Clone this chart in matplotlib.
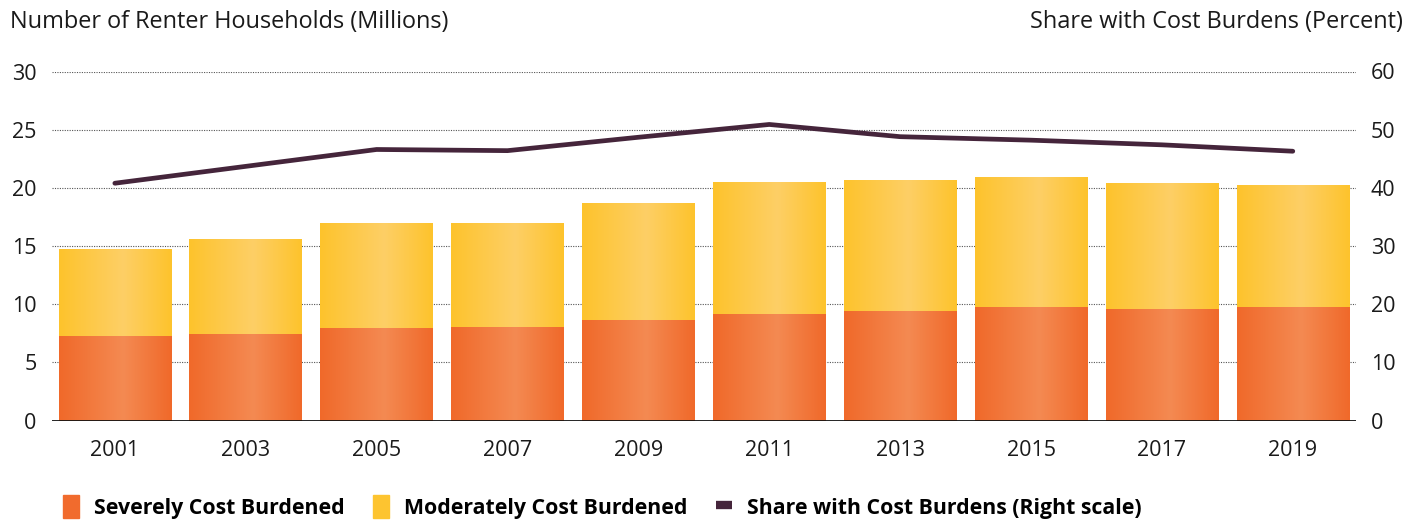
import numpy as np
import matplotlib
matplotlib.use('Agg')
import matplotlib.pyplot as plt
from matplotlib.colors import LinearSegmentedColormap
from matplotlib.patches import Patch
from matplotlib.lines import Line2D

plt.rcParams['font.family'] = ['Open Sans', 'DejaVu Sans']

# Data
years = ['2001', '2003', '2005', '2007', '2009', '2011', '2013', '2015', '2017', '2019']
severe = [7.3, 7.45, 7.95, 8.05, 8.65, 9.15, 9.45, 9.75, 9.6, 9.75]
total = [14.75, 15.6, 17.0, 17.0, 18.7, 20.5, 20.7, 20.95, 20.45, 20.25]
moderate = [t - s for t, s in zip(total, severe)]
share = [40.8, 43.7, 46.6, 46.4, 48.7, 50.9, 48.8, 48.2, 47.4, 46.3]

orange = '#F16B2D'
yellow = '#FDC430'
plum = '#45253B'

fig = plt.figure(figsize=(14.21, 5.2), dpi=100)
ax = fig.add_axes([0.0366, 0.191, 0.9174, 0.6715])
ax2 = ax.twinx()

x = np.arange(len(years))
b1 = ax.bar(x, severe, width=0.86, color=orange, zorder=2)
b2 = ax.bar(x, moderate, bottom=severe, width=0.86, color=yellow, zorder=2)

# horizontal gradient (lighter near the middle) clipped to each bar
def shade(bars, edge, mid):
    cmap = LinearSegmentedColormap.from_list('g', [edge, mid, edge])
    grad = np.linspace(0, 1, 256)
    grad = np.where(grad < 0.57, grad / 0.57 * 0.5, 0.5 + (grad - 0.57) / 0.43 * 0.5)
    grad = grad.reshape(1, -1)
    for p in bars:
        x0, y0 = p.get_x(), p.get_y()
        w, h = p.get_width(), p.get_height()
        im = ax.imshow(grad, cmap=cmap, aspect='auto', extent=[x0, x0 + w, y0, y0 + h],
                       zorder=2.5, interpolation='bicubic')
        im.set_clip_path(p)

shade(b1, '#F0692A', '#F48A52')
shade(b2, '#FDC32C', '#FECF66')

ax.set_xlim(-0.48, 9.48)
ax.set_ylim(0, 30)
ax.set_yticks([0, 5, 10, 15, 20, 25, 30])
ax.set_xticks(x)
ax.set_xticklabels(years)
ax.grid(axis='y', color='#555555', linestyle=(0, (1, 1.2)), linewidth=0.8, zorder=0)
ax.set_axisbelow(True)
ax.axhline(0, color='#111111', linewidth=2, zorder=3)

ax2.plot(x, share, color=plum, linewidth=3.4, solid_capstyle='round',
         solid_joinstyle='round', zorder=4)
ax2.set_ylim(0, 60)
ax2.set_yticks([0, 10, 20, 30, 40, 50, 60])
ax2.patch.set_visible(False)

for a in (ax, ax2):
    for s in a.spines.values():
        s.set_visible(False)
    a.tick_params(length=0, labelsize=15.5, colors='#1a1a1a')
ax.tick_params(axis='y', pad=11)
ax2.tick_params(axis='y', pad=11)
ax.tick_params(axis='x', pad=14)

fig.text(0.007, 0.958, 'Number of Renter Households (Millions)', fontsize=16.9,
         color='#1a1a1a', va='center', ha='left')
fig.text(0.987, 0.958, 'Share with Cost Burdens (Percent)', fontsize=16.9,
         color='#1a1a1a', va='center', ha='right')

handles = [Patch(color=orange), Patch(color=yellow),
           Line2D([0], [0], color=plum, linewidth=6, solid_capstyle='butt')]
labels = ['Severely Cost Burdened', 'Moderately Cost Burdened',
          'Share with Cost Burdens (Right scale)']
leg = fig.legend(handles, labels, loc='center left', bbox_to_anchor=(0.031, 0.025),
                 ncol=3, frameon=False, handlelength=0.75, handleheight=1.3,
                 handletextpad=0.7, columnspacing=1.35,
                 prop={'size': 15.3, 'weight': 'bold'})

fig.savefig('out.png', dpi=100)
